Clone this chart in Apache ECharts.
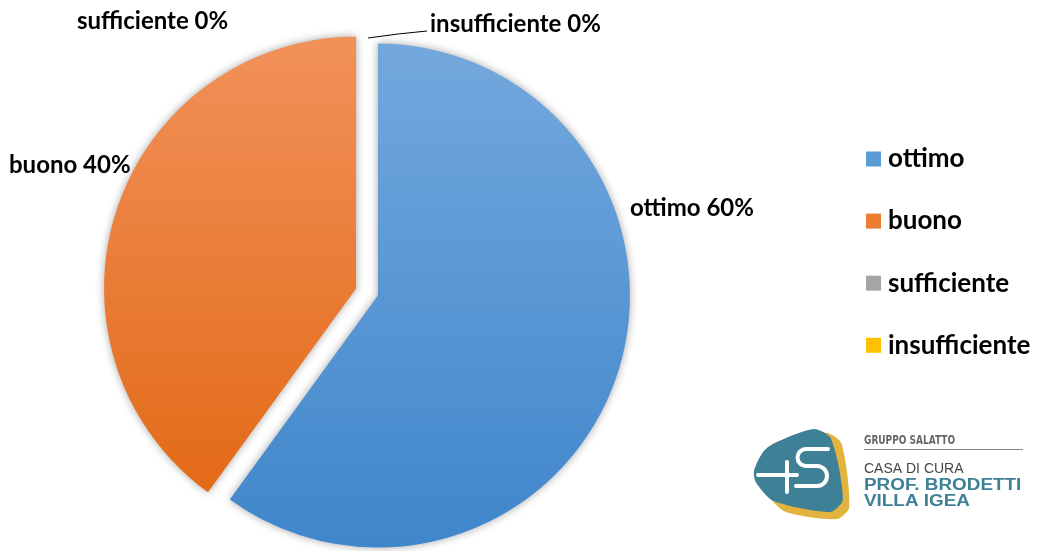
<!DOCTYPE html>
<html><head><meta charset="utf-8">
<script src="https://cdn.jsdelivr.net/npm/echarts@6/dist/echarts.min.js"></script>
<style>html,body{margin:0;padding:0;background:#fff}#c{width:1039px;height:551px}</style>
</head><body><div id="c"></div>
<script>
const categories = ['ottimo', 'buono', 'sufficiente', 'insufficiente'];
const values = [60, 40, 0, 0];
const percentLabels = ['60%', '40%', '0%', '0%'];

const gradients = [
  ['#73A8DD', '#3F86CB'],
  ['#F1915A', '#E36A17'],
  ['#B0B0B0', '#8F8F8F'],
  ['#FFCB2E', '#F2B600']
];
const legendColors = ['#5B9BD5', '#ED7D31', '#A5A5A5', '#FFC000'];
const labelPos = [
  {x: 630, y: 208},
  {x: 9, y: 165},
  {x: 77, y: 21},
  {x: 430, y: 24}
];
const FONT = 'Lato';
const CENTER = [367, 292];
const RADIUS = 252;

// rounded polygon helper for the logo decoration
function roundPoly(pts, d) {
  const out = [];
  const n = pts.length;
  for (let i = 0; i < n; i++) {
    const p = pts[i], a = pts[(i + n - 1) % n], b = pts[(i + 1) % n];
    const la = Math.hypot(a[0] - p[0], a[1] - p[1]), lb = Math.hypot(b[0] - p[0], b[1] - p[1]);
    out.push([p[0] + (a[0] - p[0]) * d / la, p[1] + (a[1] - p[1]) * d / la]);
    out.push([p[0] + (b[0] - p[0]) * d / lb, p[1] + (b[1] - p[1]) * d / lb]);
  }
  return out;
}

const chart = echarts.init(document.getElementById('c'), null, {renderer: 'canvas'});
const pieData = categories.map((n, i) => ({
  name: n,
  value: values[i],
  selected: i < 2,
  itemStyle: {
    color: {type: 'linear', x: 0, y: 0, x2: 0, y2: 1,
      colorStops: [{offset: 0, color: gradients[i][0]}, {offset: 1, color: gradients[i][1]}]}
  }
}));
const labelData = categories.map((n, i) => ({
  name: n,
  value: values[i],
  labelLine: {show: i === 3}
}));

const W = {stroke: '#fff', lineWidth: 4, fill: null, lineCap: 'round'};
chart.setOption({
  animation: false,
  legend: {
    orient: 'vertical', left: 866, top: 146, padding: 0, itemGap: 36.1, itemWidth: 15, itemHeight: 15,
    icon: 'rect',
    data: categories.map((n, i) => ({name: n, itemStyle: {color: legendColors[i]}})),
    textStyle: {fontFamily: FONT, fontWeight: 'bold', fontSize: 26, lineHeight: 26, color: '#000', padding: [0, 0, 0, 2]}
  },
  series: [{
    type: 'pie',
    center: CENTER,
    radius: RADIUS,
    startAngle: 90,
    clockwise: true,
    selectedMode: 'multiple',
    selectedOffset: 11.5,
    data: pieData,
    itemStyle: {shadowBlur: 8, shadowColor: 'rgba(0,0,0,0.35)'},
    label: {show: false},
    labelLine: {show: false},
    emphasis: {disabled: true}
  }, {
    type: 'pie',
    center: CENTER,
    radius: RADIUS,
    startAngle: 90,
    clockwise: true,
    silent: true,
    selectedMode: false,
    avoidLabelOverlap: false,
    legendHoverLink: false,
    data: labelData,
    itemStyle: {color: 'rgba(0,0,0,0)'},
    label: {
      show: true, position: 'outside',
      formatter: p => p.name + ' ' + percentLabels[p.dataIndex],
      fontFamily: FONT, fontWeight: 'bold', fontSize: 24, color: '#000'
    },
    labelLine: {lineStyle: {color: '#000', width: 1}},
    emphasis: {disabled: true},
    labelLayout: p => {
      const lp = labelPos[p.dataIndex];
      const o = {x: lp.x, y: lp.y, align: 'left', verticalAlign: 'middle'};
      if (p.dataIndex === 3) o.labelLinePoints = [[368, 38], [398, 34], [427, 31]];
      return o;
    }
  }],
  graphic: [
    {type: 'polygon', shape: {points: roundPoly([[760, 446], [840, 430], [851, 521], [772, 510]], 14), smooth: 0.25}, style: {fill: '#E2B43E'}},
    {type: 'polygon', shape: {points: roundPoly([[752, 454], [828, 423], [846, 515], [758, 498]], 16), smooth: 0.25}, style: {fill: '#3E8196'}},
    {type: 'line', shape: {x1: 758, y1: 475, x2: 797, y2: 475}, style: W},
    {type: 'line', shape: {x1: 787, y1: 462, x2: 787, y2: 492}, style: W},
    {type: 'line', shape: {x1: 806, y1: 449, x2: 828, y2: 449}, style: W},
    {type: 'arc', shape: {cx: 806, cy: 457.5, r: 8.5, startAngle: -Math.PI / 2, endAngle: Math.PI / 2, clockwise: false}, style: W},
    {type: 'line', shape: {x1: 806, y1: 466, x2: 817, y2: 466}, style: W},
    {type: 'arc', shape: {cx: 817, cy: 476, r: 10, startAngle: -Math.PI / 2, endAngle: Math.PI / 2, clockwise: true}, style: W},
    {type: 'line', shape: {x1: 796, y1: 486, x2: 817, y2: 486}, style: W},
    {type: 'text', x: 864, y: 434, scaleX: 0.8, style: {x: 0, y: 0, text: 'GRUPPO SALATTO', font: 'bold 12.5px "DejaVu Sans Condensed", "DejaVu Sans"', fill: '#666'}},
    {type: 'line', shape: {x1: 864, y1: 449.5, x2: 1023, y2: 449.5}, style: {stroke: '#888', lineWidth: 1}},
    {type: 'text', x: 864, y: 462, style: {x: 0, y: 0, text: 'CASA DI CURA', font: '14px "Liberation Sans"', fill: '#444'}},
    {type: 'text', x: 864, y: 478, scaleX: 1.18, style: {x: 0, y: 0, text: 'PROF. BRODETTI', font: 'bold 16px "Liberation Sans"', fill: '#3E8196'}},
    {type: 'text', x: 864, y: 494, scaleX: 1.18, style: {x: 0, y: 0, text: 'VILLA IGEA', font: 'bold 16px "Liberation Sans"', fill: '#3E8196'}}
  ]
});
</script></body></html>
